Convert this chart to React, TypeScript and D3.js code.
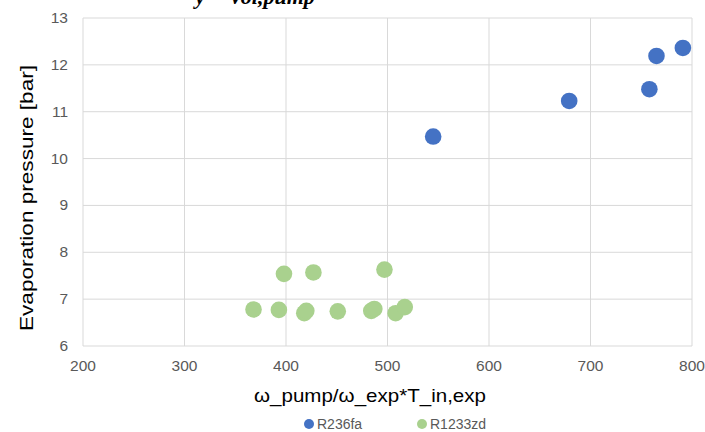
import React, { useEffect, useRef } from "react";
import * as d3 from "d3";

// R236fa points: [x, evaporation pressure]
const r236faX = [545, 679, 758, 765, 791];
const r236faY = [10.47, 11.23, 11.48, 12.19, 12.36];

// R1233zd points
const r1233zdX = [368, 393, 398, 418, 420, 427, 451, 484, 487, 497, 508, 517];
const r1233zdY = [6.78, 6.77, 7.54, 6.7, 6.75, 7.57, 6.74, 6.75, 6.79, 7.63, 6.7, 6.83];

const xTicks = [200, 300, 400, 500, 600, 700, 800];
const yTicks = [6, 7, 8, 9, 10, 11, 12, 13];

const seriesNames = ["R236fa", "R1233zd"];
const seriesColors = ["#4472C4", "#A9D18E"];

const App = () => {
  const svgRef = useRef<SVGSVGElement>(null);

  useEffect(() => {
    const width = 705;
    const height = 432;
    const left = 83;
    const right = 692;
    const top = 18;
    const bottom = 346;

    const svg = d3.select(svgRef.current);
    svg.selectAll("*").remove();
    svg.attr("width", width).attr("height", height);

    const x = d3.scaleLinear().domain([200, 800]).range([left, right]);
    const y = d3.scaleLinear().domain([6, 13]).range([bottom, top]);

    const font = "Liberation Sans, Arial, sans-serif";

    // chart title, mostly cut off by the top edge
    svg
      .append("text")
      .attr("x", 255)
      .attr("y", 4)
      .attr("text-anchor", "middle")
      .attr("font-family", "Liberation Serif, serif")
      .attr("font-weight", "bold")
      .attr("font-style", "italic")
      .attr("font-size", 22)
      .text("y = Vol,pump");

    // gridlines
    svg
      .append("g")
      .selectAll("line")
      .data(xTicks)
      .join("line")
      .attr("x1", (d) => x(d))
      .attr("x2", (d) => x(d))
      .attr("y1", top)
      .attr("y2", bottom)
      .attr("stroke", "#d9d9d9");

    svg
      .append("g")
      .selectAll("line")
      .data(yTicks)
      .join("line")
      .attr("x1", left)
      .attr("x2", right)
      .attr("y1", (d) => y(d))
      .attr("y2", (d) => y(d))
      .attr("stroke", "#d9d9d9");

    // tick labels
    svg
      .append("g")
      .selectAll("text")
      .data(xTicks)
      .join("text")
      .attr("x", (d) => x(d))
      .attr("y", bottom + 25)
      .attr("text-anchor", "middle")
      .attr("font-family", font)
      .attr("font-size", 15.5)
      .attr("fill", "#595959")
      .text((d) => d);

    svg
      .append("g")
      .selectAll("text")
      .data(yTicks)
      .join("text")
      .attr("x", left - 15)
      .attr("y", (d) => y(d) + 5)
      .attr("text-anchor", "end")
      .attr("font-family", font)
      .attr("font-size", 15.5)
      .attr("fill", "#595959")
      .text((d) => d);

    // axis titles
    svg
      .append("text")
      .attr("transform", `translate(33,${(top + bottom) / 2 + 16}) rotate(-90)`)
      .attr("text-anchor", "middle")
      .attr("font-family", font)
      .attr("font-size", 19)
      .attr("textLength", 266)
      .attr("lengthAdjust", "spacingAndGlyphs")
      .attr("fill", "#000")
      .text("Evaporation pressure [bar]");

    svg
      .append("text")
      .attr("x", 370)
      .attr("y", 402)
      .attr("text-anchor", "middle")
      .attr("font-family", font)
      .attr("font-size", 19)
      .attr("textLength", 232)
      .attr("lengthAdjust", "spacingAndGlyphs")
      .attr("fill", "#000")
      .text("ω_pump/ω_exp*T_in,exp");

    // points
    const series = [
      d3.zip(r236faX, r236faY),
      d3.zip(r1233zdX, r1233zdY),
    ];

    series.forEach((pts, i) => {
      svg
        .append("g")
        .selectAll("circle")
        .data(pts)
        .join("circle")
        .attr("cx", (d) => x(d[0]))
        .attr("cy", (d) => y(d[1]))
        .attr("r", 8.3)
        .attr("fill", seriesColors[i]);
    });

    // legend
    const legendX = [309, 422];
    const legend = svg
      .append("g")
      .selectAll("g")
      .data(seriesNames)
      .join("g")
      .attr("transform", (d, i) => `translate(${legendX[i]},424)`);

    legend
      .append("circle")
      .attr("r", 5)
      .attr("fill", (d, i) => seriesColors[i]);

    legend
      .append("text")
      .attr("x", 8)
      .attr("y", 5)
      .attr("font-family", font)
      .attr("font-size", 14)
      .attr("fill", "#595959")
      .text((d) => d);
  }, []);

  return (
    <svg
      ref={svgRef}
      style={{ position: "absolute", left: 0, top: 0, background: "#fff" }}
    ></svg>
  );
};

export default App;
